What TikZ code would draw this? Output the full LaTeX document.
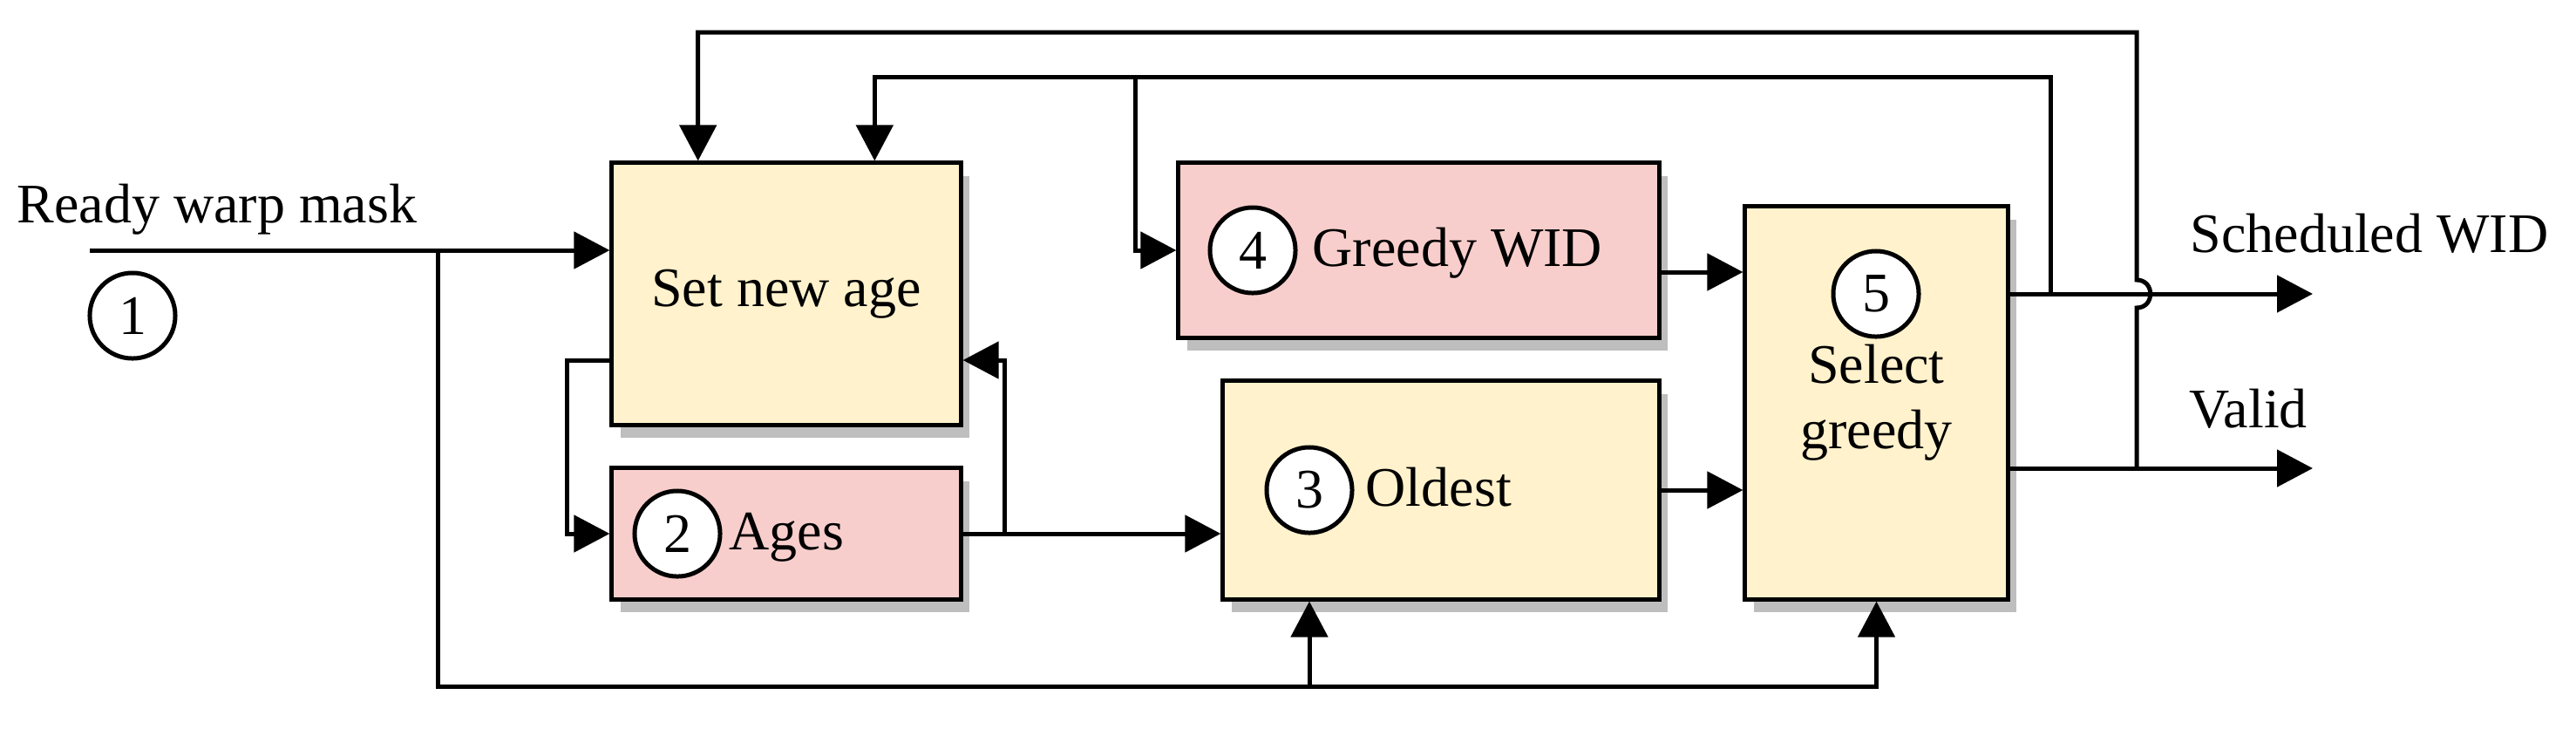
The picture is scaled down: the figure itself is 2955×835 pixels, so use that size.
\documentclass[tikz,border=0pt]{standalone}
\usepackage{fontspec}
\setmainfont{Liberation Serif}
\usetikzlibrary{arrows.meta,shadows,calc}
\definecolor{boxyellow}{HTML}{FFF2CC}
\definecolor{boxpink}{HTML}{F8CECC}
\definecolor{shadowgray}{HTML}{BEBEBE}
\tikzset{
  ln/.style={line width=1.42pt},
  arr/.style={ln, -{Triangle[length=4.1mm,width=4.2mm]}},
  blk/.style={draw, line width=1.42pt, inner sep=0pt, align=center,
    drop shadow={shadow xshift=0.1cm, shadow yshift=-0.15cm, fill=shadowgray, opacity=1}},
  yel/.style={blk, fill=boxyellow},
  pnk/.style={blk, fill=boxpink},
  num/.style={circle, draw, fill=white, line width=1.42pt, minimum size=0.98cm, inner sep=0pt},
  lbl/.style={inner sep=0pt, anchor=base west},
}
\begin{document}
\begin{tikzpicture}[x=0.01cm, y=-0.01cm, font=\fontsize{18.2}{21.8}\selectfont]
\useasboundingbox (0,0) rectangle (2955,835);

% blocks
\node[yel, minimum width=4cm, minimum height=3cm] (san) at (902,337) {Set new age};
\node[pnk, minimum width=4cm, minimum height=1.5cm] (ages) at (902,612) {};
\node[pnk, minimum width=5.51cm, minimum height=2cm] (grd) at (1627.5,287) {};
\node[yel, minimum width=5cm, minimum height=2.5cm] (old) at (1653,562) {};
\node[yel, minimum width=3.01cm, minimum height=4.5cm, font=\fontsize{18.2}{21.3}\selectfont] (sel) at (2152.5,462) {Select\\greedy};

% numbered circles
\node[num] (c1) at (152,362) {1};
\node[num] (c2) at (777,612) {2};
\node[num] (c3) at (1502,562) {3};
\node[num] (c4) at (1437,287) {4};
\node[num] (c5) at (2152,337) {5};

% labels
\node[lbl] (tready) at (19,255) {Ready warp mask};
\node[lbl] (tages) at (836,630) {Ages};
\node[lbl] (tgrd) at (1505,305) {Greedy WID};
\node[lbl] (told) at (1566,580) {Oldest};
\node[lbl] (tsch) at (2512,289) {Scheduled WID};
\node[lbl] (tval) at (2511,490) {Valid};

% helper coordinates
\coordinate (sanA) at ($(san.north west)!0.25!(san.north east)$);
\coordinate (sanB) at ($(san.north west)!0.75!(san.north east)$);
\coordinate (t1) at (0,37);
\coordinate (t2) at (0,88);
\coordinate (yl) at (0,413);
\coordinate (yg) at (0,312);
\coordinate (yv) at (0,537);
\coordinate (rin) at (103,287);
\coordinate (jr) at (502,287);
\coordinate (bot) at (502,787);
\coordinate (ja) at (1152,612);
\coordinate (jg) at (1302,88);
\coordinate (js) at (2352,337);
\coordinate (jv) at (2451,537);
\coordinate (out1) at (2653,337);
\coordinate (out2) at (2653,537);

% input
\draw[arr] (rin) -- (rin -| san.west);
\draw[arr] (jr) -- (bot) -| (sel.south);
\draw[arr] (c3 |- bot) -- (c3 |- old.south);

% set new age <-> ages
\draw[arr] (san.west |- yl) -- ++(-49,0) |- (ages.west);
\draw[arr] (ages.east) -- (ages.east -| old.west);
\draw[arr] (ja) |- (san.east |- yl);

% into select
\draw[arr] (grd.east |- yg) -- (sel.west |- yg);
\draw[arr] (old.east) -- (old.east -| sel.west);

% outputs
\draw[arr] (sel.east |- c5) -- (out1);
\draw[arr] (sel.east |- yv) -- (out2);

% feedback loops
\draw[arr] (js) -- (js |- t2) -| (sanB);
\draw[arr] (jg) |- (grd.west);
\draw[arr] (jv) -- ($(jv |- c5)+(0,16)$) .. controls +(21,0) and +(21,0) .. ($(jv |- c5)+(0,-16)$) -- (jv |- t1) -| (sanA);
\end{tikzpicture}
\end{document}
